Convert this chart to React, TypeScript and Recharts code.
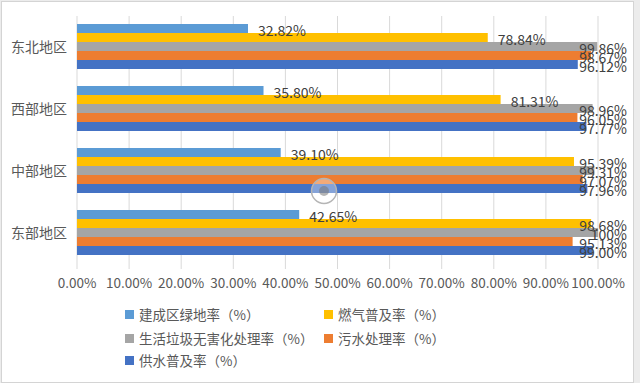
import { BarChart, Bar, XAxis, YAxis, CartesianGrid, LabelList } from "recharts";

const regions = ["东北地区", "西部地区", "中部地区", "东部地区"];
const greenRate = [32.82, 35.8, 39.1, 42.65];
const gasRate = [78.84, 81.31, 95.39, 98.68];
const garbageRate = [99.86, 98.96, 99.31, 100];
const sewageRate = [98.67, 96.05, 97.07, 95.13];
const waterRate = [96.12, 97.77, 97.96, 99.0];
const xTicks = [0, 10, 20, 30, 40, 50, 60, 70, 80, 90, 100];

const seriesList = [
  { key: "green", name: "建成区绿地率（%）", color: "#5B9BD5", values: greenRate },
  { key: "gas", name: "燃气普及率（%）", color: "#FFC000", values: gasRate },
  { key: "garbage", name: "生活垃圾无害化处理率（%）", color: "#A5A5A5", values: garbageRate },
  { key: "sewage", name: "污水处理率（%）", color: "#ED7D31", values: sewageRate },
  { key: "water", name: "供水普及率（%）", color: "#4472C4", values: waterRate },
];

const data = regions.map((region, i) => {
  const row: Record<string, string | number> = { region };
  seriesList.forEach((s) => {
    row[s.key] = s.values[i];
  });
  return row;
});

const FONT = '"Noto Sans CJK SC", "Noto Sans", sans-serif';
const LABEL_RIGHT = 627;

const fmt = (v: number) => (v === 100 ? "100%" : `${v.toFixed(2)}%`);

// Excel pushes labels back inside the chart when they would run off the edge
const BarLabel = (props: any) => {
  const { x, y, width, height, value } = props;
  const text = fmt(Number(value));
  const estW = text.length * 7.9;
  const start = x + width + 10;
  const clamp = start + estW > LABEL_RIGHT;
  return (
    <text
      x={clamp ? LABEL_RIGHT : start}
      y={y + height / 2 + 2}
      dy="0.36em"
      textAnchor={clamp ? "end" : "start"}
      fill="#404040"
      fontSize={14}
      fontFamily={FONT}
    >
      {text}
    </text>
  );
};

const legendPos = [
  { left: 125, top: 314 },
  { left: 324, top: 314 },
  { left: 125, top: 338 },
  { left: 324, top: 338 },
  { left: 125, top: 360 },
];

const App = () => {
  return (
    <div
      style={{
        position: "absolute",
        left: 0,
        top: 0,
        width: 640,
        height: 383,
        background: "#ececec",
        fontFamily: FONT,
      }}
    >
      <div
        style={{
          position: "absolute",
          left: 1,
          top: 1,
          width: 633,
          height: 382,
          boxSizing: "border-box",
          background: "#fff",
          border: "1px solid #d4d4d4",
        }}
      />
      <div style={{ position: "absolute", left: 0, top: 0 }}>
        <BarChart
          width={640}
          height={300}
          data={data}
          layout="vertical"
          margin={{ top: 16, right: 42, left: 0, bottom: 6 }}
          barCategoryGap="13%"
          barGap={0}
        >
          <CartesianGrid horizontal={false} stroke="#d9d9d9" />
          <XAxis
            type="number"
            domain={[0, 100]}
            ticks={xTicks}
            height={30}
            axisLine={false}
            tickLine={{ stroke: "#d9d9d9" }}
            tickSize={5}
            tickMargin={9}
            tickFormatter={(v: number) => `${v.toFixed(2)}%`}
            tick={{ fill: "#595959", fontSize: 13.5, fontFamily: FONT }}
            interval={0}
          />
          <YAxis
            type="category"
            dataKey="region"
            width={77}
            axisLine={false}
            tickLine={false}
            tickSize={0}
            tickMargin={10}
            tick={{ fill: "#595959", fontSize: 14, fontFamily: FONT }}
          />
          {seriesList.map((s) => (
            <Bar key={s.key} dataKey={s.key} name={s.name} fill={s.color} isAnimationActive={false}>
              <LabelList dataKey={s.key} content={BarLabel} />
            </Bar>
          ))}
        </BarChart>
      </div>
      {seriesList.map((s, i) => (
        <div
          key={s.key}
          style={{
            position: "absolute",
            left: legendPos[i].left,
            top: legendPos[i].top - 10,
            height: 20,
            display: "flex",
            alignItems: "center",
            whiteSpace: "nowrap",
            fontSize: 13.5,
            color: "#595959",
          }}
        >
          <span style={{ width: 9, height: 9, background: s.color, marginRight: 5, display: "inline-block" }} />
          <span>{s.name}</span>
        </div>
      ))}
      <svg style={{ position: "absolute", left: 310, top: 176 }} width={30} height={30}>
        <circle cx={14} cy={15} r={12.5} fill="rgba(255,255,255,0.35)" stroke="#b5b5b5" strokeWidth={1.5} />
        <circle cx={14} cy={15} r={5} fill="rgba(120,120,120,0.55)" />
      </svg>
    </div>
  );
};

export default App;
